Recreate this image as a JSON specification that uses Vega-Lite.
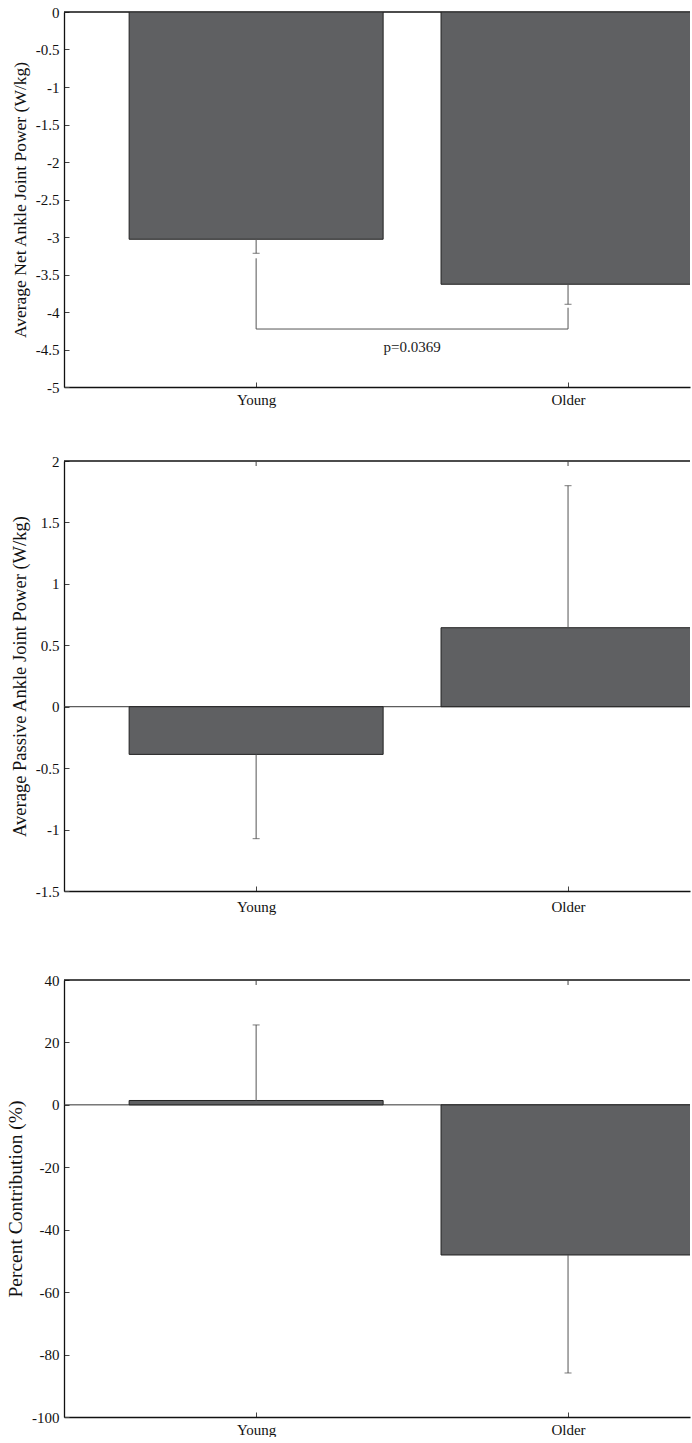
{
  "$schema": "https://vega.github.io/schema/vega-lite/v6.json",
  "padding": {"left": 5, "top": 5, "right": 0, "bottom": 0},
  "background": "white",
  "datasets": {
    "net": [
      {"group": "Young", "index": 1, "mean": -3.03, "err": -3.217},
      {"group": "Older", "index": 2, "mean": -3.63, "err": -3.897}
    ],
    "bracket": [
      {"index": 1, "step": 1, "value": -3.284},
      {"index": 1, "step": 2, "value": -4.227},
      {"index": 2, "step": 3, "value": -4.227},
      {"index": 2, "step": 4, "value": -3.943}
    ],
    "passive": [
      {"group": "Young", "index": 1, "mean": -0.388, "err": -1.074},
      {"group": "Older", "index": 2, "mean": 0.643, "err": 1.799}
    ],
    "percent": [
      {"group": "Young", "index": 1, "mean": 1.4, "err": 25.6},
      {"group": "Older", "index": 2, "mean": -48.1, "err": -85.9}
    ],
    "frame": [
      {"edge": "line"}
    ]
  },
  "vconcat": [
    {
      "width": 626,
      "height": 375,
      "layer": [
        {
          "data": {"name": "frame"},
          "mark": {"type": "rule", "color": "#111111", "strokeWidth": 1.3},
          "encoding": {
            "x": {"value": 0},
            "x2": {"value": "width"},
            "y": {"datum": 0, "type": "quantitative",
              "axis": {"values": [0, -0.5, -1, -1.5, -2, -2.5, -3, -3.5, -4, -4.5, -5], "labelExpr": "'' + datum.value", "title": "Average Net Ankle Joint Power (W/kg)", "titleFontSize": 17.5}}}
        },
        {
          "data": {"name": "net"},
          "mark": {"type": "bar", "width": 254, "fill": "#5f6062", "stroke": "#222222", "strokeWidth": 1, "clip": true},
          "encoding": {
            "x": {"field": "index", "type": "quantitative", "scale": {"domain": [0.4, 2.375], "nice": false, "zero": false},
              "axis": {"values": [1, 2], "labelExpr": "datum.value == 1 ? 'Young' : 'Older'", "title": null}},
            "y": {"field": "mean", "type": "quantitative", "scale": {"domain": [-5, 0], "nice": false},
              "axis": {"values": [0, -0.5, -1, -1.5, -2, -2.5, -3, -3.5, -4, -4.5, -5], "labelExpr": "'' + datum.value", "title": "Average Net Ankle Joint Power (W/kg)", "titleFontSize": 17.5}}
          }
        },
        {
          "data": {"name": "net"},
          "mark": {"type": "rule", "color": "#555555", "strokeWidth": 1},
          "encoding": {
            "x": {"field": "index", "type": "quantitative",
              "axis": {"values": [1, 2], "labelExpr": "datum.value == 1 ? 'Young' : 'Older'", "title": null}},
            "y": {"field": "mean", "type": "quantitative",
              "axis": {"values": [0, -0.5, -1, -1.5, -2, -2.5, -3, -3.5, -4, -4.5, -5], "labelExpr": "'' + datum.value", "title": "Average Net Ankle Joint Power (W/kg)", "titleFontSize": 17.5}},
            "y2": {"field": "err"}
          }
        },
        {
          "data": {"name": "net"},
          "mark": {"type": "tick", "orient": "horizontal", "size": 7, "thickness": 1, "color": "#444444"},
          "encoding": {
            "x": {"field": "index", "type": "quantitative",
              "axis": {"values": [1, 2], "labelExpr": "datum.value == 1 ? 'Young' : 'Older'", "title": null}},
            "y": {"field": "err", "type": "quantitative",
              "axis": {"values": [0, -0.5, -1, -1.5, -2, -2.5, -3, -3.5, -4, -4.5, -5], "labelExpr": "'' + datum.value", "title": "Average Net Ankle Joint Power (W/kg)", "titleFontSize": 17.5}}
          }
        },
        {
          "data": {"name": "bracket"},
          "mark": {"type": "line", "color": "#555555", "strokeWidth": 1},
          "encoding": {
            "x": {"field": "index", "type": "quantitative",
              "axis": {"values": [1, 2], "labelExpr": "datum.value == 1 ? 'Young' : 'Older'", "title": null}},
            "y": {"field": "value", "type": "quantitative",
              "axis": {"values": [0, -0.5, -1, -1.5, -2, -2.5, -3, -3.5, -4, -4.5, -5], "labelExpr": "'' + datum.value", "title": "Average Net Ankle Joint Power (W/kg)", "titleFontSize": 17.5}},
            "order": {"field": "step", "type": "quantitative"}
          }
        },
        {
          "data": {"values": [{"label": "p=0.0369"}]},
          "mark": {"type": "text", "font": "Liberation Serif", "fontSize": 15, "color": "#222222"},
          "encoding": {
            "x": {"datum": 1.5, "type": "quantitative",
              "axis": {"values": [1, 2], "labelExpr": "datum.value == 1 ? 'Young' : 'Older'", "title": null}},
            "y": {"datum": -4.467, "type": "quantitative",
              "axis": {"values": [0, -0.5, -1, -1.5, -2, -2.5, -3, -3.5, -4, -4.5, -5], "labelExpr": "'' + datum.value", "title": "Average Net Ankle Joint Power (W/kg)", "titleFontSize": 17.5}},
            "text": {"field": "label"}
          }
        }
      ]
    },
    {
      "width": 626,
      "height": 430,
      "layer": [
        {
          "data": {"name": "frame"},
          "mark": {"type": "rule", "color": "#333333", "strokeWidth": 1},
          "encoding": {
            "x": {"value": 0},
            "x2": {"value": "width"},
            "y": {"datum": 0, "type": "quantitative",
              "axis": {"values": [2, 1.5, 1, 0.5, 0, -0.5, -1, -1.5], "labelExpr": "'' + datum.value", "title": "Average Passive Ankle Joint Power (W/kg)", "titleFontSize": 18.5}}}
        },
        {
          "data": {"name": "frame"},
          "mark": {"type": "rule", "color": "#111111", "strokeWidth": 1.3},
          "encoding": {
            "x": {"value": 0},
            "x2": {"value": "width"},
            "y": {"datum": 2, "type": "quantitative",
              "axis": {"values": [2, 1.5, 1, 0.5, 0, -0.5, -1, -1.5], "labelExpr": "'' + datum.value", "title": "Average Passive Ankle Joint Power (W/kg)", "titleFontSize": 18.5}}}
        },
        {
          "data": {"name": "passive"},
          "mark": {"type": "bar", "width": 254, "fill": "#5f6062", "stroke": "#222222", "strokeWidth": 1, "clip": true},
          "encoding": {
            "x": {"field": "index", "type": "quantitative", "scale": {"domain": [0.4, 2.375], "nice": false, "zero": false},
              "axis": {"values": [1, 2], "labelExpr": "datum.value == 1 ? 'Young' : 'Older'", "title": null, "labelPadding": 13}},
            "y": {"field": "mean", "type": "quantitative", "scale": {"domain": [-1.5, 2], "nice": false},
              "axis": {"values": [2, 1.5, 1, 0.5, 0, -0.5, -1, -1.5], "labelExpr": "'' + datum.value", "title": "Average Passive Ankle Joint Power (W/kg)", "titleFontSize": 18.5}}
          }
        },
        {
          "data": {"name": "passive"},
          "mark": {"type": "point", "shape": "M0,0L0,1", "size": 100, "filled": false, "stroke": "#444444", "strokeWidth": 1, "opacity": 1},
          "encoding": {
            "x": {"field": "index", "type": "quantitative",
              "axis": {"values": [1, 2], "labelExpr": "datum.value == 1 ? 'Young' : 'Older'", "title": null, "labelPadding": 13}},
            "y": {"datum": 2, "type": "quantitative",
              "axis": {"values": [2, 1.5, 1, 0.5, 0, -0.5, -1, -1.5], "labelExpr": "'' + datum.value", "title": "Average Passive Ankle Joint Power (W/kg)", "titleFontSize": 18.5}}
          }
        },
        {
          "data": {"name": "passive"},
          "mark": {"type": "rule", "color": "#555555", "strokeWidth": 1},
          "encoding": {
            "x": {"field": "index", "type": "quantitative",
              "axis": {"values": [1, 2], "labelExpr": "datum.value == 1 ? 'Young' : 'Older'", "title": null, "labelPadding": 13}},
            "y": {"field": "mean", "type": "quantitative",
              "axis": {"values": [2, 1.5, 1, 0.5, 0, -0.5, -1, -1.5], "labelExpr": "'' + datum.value", "title": "Average Passive Ankle Joint Power (W/kg)", "titleFontSize": 18.5}},
            "y2": {"field": "err"}
          }
        },
        {
          "data": {"name": "passive"},
          "mark": {"type": "tick", "orient": "horizontal", "size": 7, "thickness": 1, "color": "#444444"},
          "encoding": {
            "x": {"field": "index", "type": "quantitative",
              "axis": {"values": [1, 2], "labelExpr": "datum.value == 1 ? 'Young' : 'Older'", "title": null, "labelPadding": 13}},
            "y": {"field": "err", "type": "quantitative",
              "axis": {"values": [2, 1.5, 1, 0.5, 0, -0.5, -1, -1.5], "labelExpr": "'' + datum.value", "title": "Average Passive Ankle Joint Power (W/kg)", "titleFontSize": 18.5}}
          }
        }
      ]
    },
    {
      "width": 626,
      "height": 437,
      "title": {"text": " ", "fontSize": 2, "offset": 10},
      "layer": [
        {
          "data": {"name": "frame"},
          "mark": {"type": "rule", "color": "#333333", "strokeWidth": 1},
          "encoding": {
            "x": {"value": 0},
            "x2": {"value": "width"},
            "y": {"datum": 0, "type": "quantitative",
              "axis": {"values": [40, 20, 0, -20, -40, -60, -80, -100], "labelExpr": "'' + datum.value", "title": "Percent Contribution (%)", "titleFontSize": 19.5}}}
        },
        {
          "data": {"name": "frame"},
          "mark": {"type": "rule", "color": "#111111", "strokeWidth": 1.3},
          "encoding": {
            "x": {"value": 0},
            "x2": {"value": "width"},
            "y": {"datum": 40, "type": "quantitative",
              "axis": {"values": [40, 20, 0, -20, -40, -60, -80, -100], "labelExpr": "'' + datum.value", "title": "Percent Contribution (%)", "titleFontSize": 19.5}}}
        },
        {
          "data": {"name": "percent"},
          "mark": {"type": "bar", "width": 254, "fill": "#5f6062", "stroke": "#222222", "strokeWidth": 1, "clip": true},
          "encoding": {
            "x": {"field": "index", "type": "quantitative", "scale": {"domain": [0.4, 2.375], "nice": false, "zero": false},
              "axis": {"values": [1, 2], "labelExpr": "datum.value == 1 ? 'Young' : 'Older'", "title": null}},
            "y": {"field": "mean", "type": "quantitative", "scale": {"domain": [-100, 40], "nice": false},
              "axis": {"values": [40, 20, 0, -20, -40, -60, -80, -100], "labelExpr": "'' + datum.value", "title": "Percent Contribution (%)", "titleFontSize": 19.5}}
          }
        },
        {
          "data": {"name": "percent"},
          "mark": {"type": "point", "shape": "M0,0L0,1", "size": 100, "filled": false, "stroke": "#444444", "strokeWidth": 1, "opacity": 1},
          "encoding": {
            "x": {"field": "index", "type": "quantitative",
              "axis": {"values": [1, 2], "labelExpr": "datum.value == 1 ? 'Young' : 'Older'", "title": null}},
            "y": {"datum": 40, "type": "quantitative",
              "axis": {"values": [40, 20, 0, -20, -40, -60, -80, -100], "labelExpr": "'' + datum.value", "title": "Percent Contribution (%)", "titleFontSize": 19.5}}
          }
        },
        {
          "data": {"name": "percent"},
          "mark": {"type": "rule", "color": "#555555", "strokeWidth": 1},
          "encoding": {
            "x": {"field": "index", "type": "quantitative",
              "axis": {"values": [1, 2], "labelExpr": "datum.value == 1 ? 'Young' : 'Older'", "title": null}},
            "y": {"field": "mean", "type": "quantitative",
              "axis": {"values": [40, 20, 0, -20, -40, -60, -80, -100], "labelExpr": "'' + datum.value", "title": "Percent Contribution (%)", "titleFontSize": 19.5}},
            "y2": {"field": "err"}
          }
        },
        {
          "data": {"name": "percent"},
          "mark": {"type": "tick", "orient": "horizontal", "size": 7, "thickness": 1, "color": "#444444"},
          "encoding": {
            "x": {"field": "index", "type": "quantitative",
              "axis": {"values": [1, 2], "labelExpr": "datum.value == 1 ? 'Young' : 'Older'", "title": null}},
            "y": {"field": "err", "type": "quantitative",
              "axis": {"values": [40, 20, 0, -20, -40, -60, -80, -100], "labelExpr": "'' + datum.value", "title": "Percent Contribution (%)", "titleFontSize": 19.5}}
          }
        }
      ]
    }
  ],
  "spacing": 47,
  "config": {
    "view": {"stroke": null},
    "font": "Liberation Serif",
    "title": {"font": "Liberation Serif", "color": "white"},
    "style": {
      "guide-label": {"font": "Liberation Serif", "fontSize": 15, "fontWeight": "normal", "fill": "#111111"},
      "guide-title": {"font": "Liberation Serif", "fontWeight": "normal", "fill": "#111111"}
    },
    "axis": {
      "grid": false,
      "domainColor": "#111111",
      "domainWidth": 1.3,
      "tickColor": "#444444",
      "tickSize": -5,
      "tickWidth": 1,
      "labelFont": "Liberation Serif",
      "labelFontSize": 15,
      "labelFontWeight": "normal",
      "labelColor": "#111111",
      "labelPadding": 10,
      "labelOverlap": false,
      "titleFont": "Liberation Serif",
      "titleFontWeight": "normal",
      "titleColor": "#111111",
      "titlePadding": 6
    }
  }
}
